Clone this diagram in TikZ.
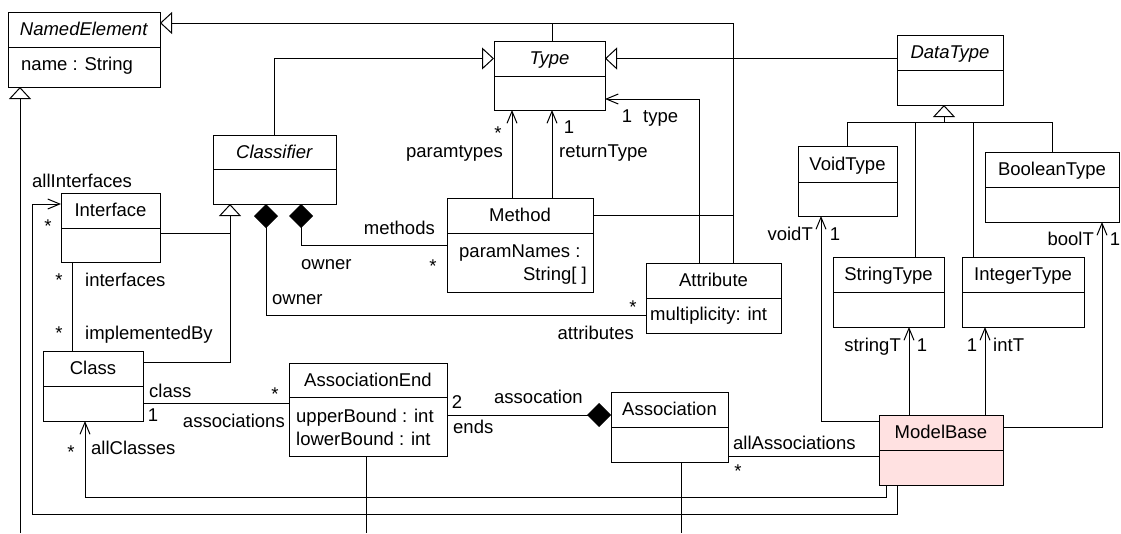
\documentclass[tikz,border=0pt]{standalone}
\usepackage{fontspec}
\setmainfont{Liberation Sans}
\usetikzlibrary{arrows.meta}
\definecolor{mbfill}{RGB}{255,225,225}
\begin{document}
\begin{tikzpicture}[x=1pt,y=-1pt,
  every node/.style={font=\fontsize{18.5pt}{22pt}\selectfont},
  ln/.style={line width=1pt, draw=black},
  hdr/.style={draw, line width=1pt, inner sep=0pt, outer sep=0pt, anchor=north west, text height=13.3pt, text depth=1pt, minimum width=#1},
  bdy/.style={draw, line width=1pt, inner sep=0pt, outer sep=0pt, anchor=north, minimum width=#1},
  lb/.style={inner sep=0pt, anchor=base},
  lbw/.style={inner sep=0pt, anchor=base west},
  lbe/.style={inner sep=0pt, anchor=base east},
  genr/.style={-{Triangle[open,length=12pt,width=22pt]}},
  navr/.style={-{Straight Barb[length=12pt,width=10pt]}},
  compr/.style={-{Diamond[length=24pt,width=24pt]}}
]
\useasboundingbox (0,0) rectangle (1121,533);

% ---------- classes ----------
\node[hdr=152, minimum height=35] (NE) at (8,12) {\textit{NamedElement}};
\node[bdy=152, minimum height=40] (NEb) at (NE.south) {};
\node[hdr=111, minimum height=35] (Typet) at (494,41) {\textit{Type}};
\node[bdy=111, minimum height=34] (Typeb) at (Typet.south) {};
\node[hdr=106, minimum height=35] (DTt) at (897,35) {\textit{DataType}};
\node[bdy=106, minimum height=35] (DTb) at (DTt.south) {};
\node[hdr=123, minimum height=34] (Clst) at (213,135) {\textit{Classifier}};
\node[bdy=123, minimum height=35] (Clsb) at (Clst.south) {};
\node[hdr=99, minimum height=35] (Intft) at (61,193) {Interface};
\node[bdy=99, minimum height=34] (Intfb) at (Intft.south) {};
\node[hdr=146, minimum height=35] (Metht) at (447,198) {Method};
\node[bdy=146, minimum height=59] (Methb) at (Metht.south) {};
\node[hdr=135, minimum height=35] (Attrt) at (646,263) {Attribute};
\node[bdy=135, minimum height=35] (Attrb) at (Attrt.south) {};
\node[hdr=99, minimum height=36] (Voidt) at (798,146) {VoidType};
\node[bdy=99, minimum height=34] (Voidb) at (Voidt.south) {};
\node[hdr=134, minimum height=35] (Boolt) at (985,152) {BooleanType};
\node[bdy=134, minimum height=35] (Boolb) at (Boolt.south) {};
\node[hdr=111, minimum height=35] (Strt) at (833,257) {StringType};
\node[bdy=111, minimum height=35] (Strb) at (Strt.south) {};
\node[hdr=122, minimum height=35] (Intt) at (962,257) {IntegerType};
\node[bdy=122, minimum height=35] (Intb) at (Intt.south) {};
\node[hdr=100, minimum height=35] (Classt) at (43,351) {Class};
\node[bdy=100, minimum height=35] (Classb) at (Classt.south) {};
\node[hdr=158, minimum height=34] (AEt) at (289,363) {AssociationEnd};
\node[bdy=158, minimum height=59] (AEb) at (AEt.south) {};
\node[hdr=117, minimum height=35] (Asst) at (611,392) {Association};
\node[bdy=117, minimum height=35] (Assb) at (Asst.south) {};
\node[hdr=124, minimum height=35, fill=mbfill] (MBt) at (879,415) {ModelBase};
\node[bdy=124, minimum height=35, fill=mbfill] (MBb) at (MBt.south) {};

% ---------- attributes ----------
\node[lbw] (NEa) at (21,70) {name : String};
\node[lbw] (Mea) at (459,257) {paramNames :};
\node[lbe] (Meb) at (587,280) {String[ ]};
\node[lbw] (Ata) at (650,320) {multiplicity: int};
\node[lbw] (AEa) at (296,422) {upperBound : int};
\node[lbw] (AEc) at (296,445) {lowerBound : int};

% ---------- helper coordinates ----------
\coordinate (jNE) at (733,23);
\coordinate (rx) at (552,0);
\coordinate (px) at (512,0);
\coordinate (tj) at (699,99);
\coordinate (dtj) at (944,122);
\coordinate (sx) at (915,0);
\coordinate (ixx) at (973,0);
\coordinate (d1) at (266,315);
\coordinate (d2) at (301,245);
\coordinate (cg1) at (230,233);
\coordinate (cg2) at (230,362);
\coordinate (ic) at (72,0);
\coordinate (aj) at (0,415);
\coordinate (aa) at (0,456);
\coordinate (vj) at (821,421);
\coordinate (sx2) at (909,0);
\coordinate (ix3) at (985,0);
\coordinate (bj) at (1102,427);
\coordinate (cj) at (886,497);
\coordinate (cx) at (85,0);
\coordinate (ij) at (897,514);
\coordinate (ix4) at (32,204);
\coordinate (ne0) at (20,533);
\coordinate (ae0) at (366,533);
\coordinate (as0) at (681,533);

% ---------- connectors ----------
\draw[ln, genr] (Attrt.north -| jNE) -- (jNE) -- (NE.east |- jNE);
\draw[ln] (Typet.north -| rx) -- (rx |- jNE);
\draw[ln] (Metht.east) -- (Metht.east -| jNE);
\draw[ln, genr] (Clst.north) |- (Typet.west);
\draw[ln, genr] (DTt.west |- Typet.east) -- (Typet.east);
\draw[ln, genr] (dtj) -- (dtj |- DTb.south);
\draw[ln] (Voidt.north) -- (Voidt.north |- dtj) -- (Boolt.north |- dtj) -- (Boolt.north);
\draw[ln] (Strt.north -| sx) -- (sx |- dtj);
\draw[ln] (Intt.north -| ixx) -- (ixx |- dtj);
\draw[ln, navr] (Metht.north -| px) -- (Typeb.south -| px);
\draw[ln, navr] (Metht.north -| rx) -- (Typeb.south -| rx);
\draw[ln, navr] (Attrt.north -| tj) -- (tj) -- (Typeb.east |- tj);
\draw[ln, compr] (Methb.west |- d2) -- (d2) -- (Clsb.south -| d2);
\draw[ln, compr] (Attrb.west) -| (Clsb.south -| d1);
\draw[ln] (Intfb.east |- cg1) -- (cg1);
\draw[ln, genr] (Classt.east |- cg2) -- (cg2) -- (Clsb.south -| cg2);
\draw[ln] (Intfb.south -| ic) -- (Classt.north -| ic);
\draw[ln] (Classb.east) -- (AEb.west |- Classb.east);
\draw[ln, compr] (AEb.east |- aj) -- (Asst.west |- aj);
\draw[ln] (MBb.west |- aa) -- (Assb.east |- aa);
\draw[ln, navr] (MBt.west |- vj) -| (Voidb.south -| vj);
\draw[ln, navr] (MBt.north -| sx2) -- (Strb.south -| sx2);
\draw[ln, navr] (MBt.north -| ix3) -- (Intb.south -| ix3);
\draw[ln, navr] (MBt.east |- bj) -| (Boolb.south -| bj);
\draw[ln, navr] (MBb.south -| cj) -- (cj) -- (cx |- cj) -- (Classb.south -| cx);
\draw[ln, navr] (MBb.south -| ij) -- (ij) -- (ix4 |- ij) -- (ix4) -- (Intft.west |- ix4);
\draw[ln, genr] (ne0) -- (NEb.south -| ne0);
\draw[ln] (AEb.south -| ae0) -- (ae0);
\draw[ln] (Assb.south -| as0) -- (as0);

% ---------- labels ----------
\node[lbw] (l1) at (32,187) {allInterfaces};
\node[lb] (l2) at (48,232) {*};
\node[lb] (l3) at (59,286) {*};
\node[lbw] (l4) at (85,286) {interfaces};
\node[lb] (l5) at (59,339) {*};
\node[lbw] (l6) at (85,339) {implementedBy};
\node[lbw] (l7) at (301,269) {owner};
\node[lbw] (l8) at (272,304) {owner};
\node[lbe] (l9) at (435,234) {methods};
\node[lb] (l10) at (433,272) {*};
\node[lb] (l11) at (633,313) {*};
\node[lbe] (l12) at (634,339) {attributes};
\node[lbe] (l13) at (503,157) {paramtypes};
\node[lb] (l14) at (498,139) {*};
\node[lbw] (l15) at (559,157) {returnType};
\node[lb] (l16) at (569,133) {1};
\node[lb] (l17) at (627,122) {1};
\node[lbw] (l18) at (643,122) {type};
\node[lbe] (l19) at (813,240) {voidT};
\node[lb] (l20) at (835,240) {1};
\node[lbe] (l21) at (1094,245) {boolT};
\node[lb] (l22) at (1115,245) {1};
\node[lbe] (l23) at (901,351) {stringT};
\node[lb] (l24) at (922,351) {1};
\node[lb] (l25) at (972,351) {1};
\node[lbw] (l26) at (993,351) {intT};
\node[lbw] (l27) at (149,397) {class};
\node[lb] (l28) at (153,421) {1};
\node[lb] (l29) at (275,400) {*};
\node[lbe] (l30) at (285,427) {associations};
\node[lb] (l31) at (71,458) {*};
\node[lbw] (l32) at (91,454) {allClasses};
\node[lb] (l33) at (457,408) {2};
\node[lbw] (l34) at (453,433) {ends};
\node[lbw] (l35) at (494,403) {assocation};
\node[lbw] (l36) at (733,449) {allAssociations};
\node[lb] (l37) at (738,477) {*};
\end{tikzpicture}
\end{document}
